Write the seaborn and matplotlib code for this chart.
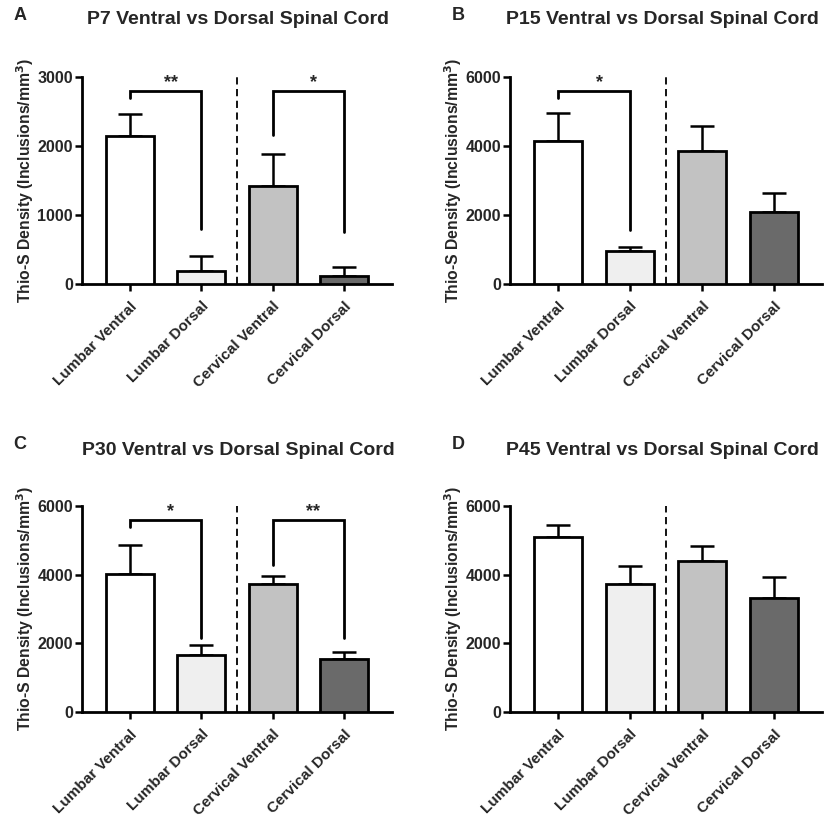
import matplotlib
matplotlib.use("Agg")
import matplotlib.pyplot as plt
import seaborn as sns
import pandas as pd

# ---------------- data ----------------
categories = ["Lumbar Ventral", "Lumbar Dorsal", "Cervical Ventral", "Cervical Dorsal"]
bar_colors = ["#ffffff", "#efefef", "#c2c2c2", "#6a6a6a"]

panel_letters = ["A", "B", "C", "D"]
titles = [
    "P7 Ventral vs Dorsal Spinal Cord",
    "P15 Ventral vs Dorsal Spinal Cord",
    "P30 Ventral vs Dorsal Spinal Cord",
    "P45 Ventral vs Dorsal Spinal Cord",
]
y_max = [3000, 6000, 6000, 6000]
y_step = [1000, 2000, 2000, 2000]

p7_mean = [2150, 190, 1420, 110]
p7_err = [320, 210, 470, 130]
p15_mean = [4150, 950, 3850, 2090]
p15_err = [800, 130, 740, 560]
p30_mean = [4030, 1670, 3730, 1550]
p30_err = [830, 280, 240, 200]
p45_mean = [5100, 3730, 4410, 3320]
p45_err = [350, 510, 420, 610]

# significance brackets: (left bar, right bar, top, left leg end, right leg end, label)
p7_brackets = [(0, 1, 2800, 2700, 800, "**"), (2, 3, 2800, 2160, 760, "*")]
p15_brackets = [(0, 1, 5600, 5380, 1570, "*")]
p30_brackets = [(0, 1, 5600, 5380, 2150, "*"), (2, 3, 5600, 4280, 2150, "**")]
p45_brackets = []

means = [p7_mean, p15_mean, p30_mean, p45_mean]
errs = [p7_err, p15_err, p30_err, p45_err]
brackets = [p7_brackets, p15_brackets, p30_brackets, p45_brackets]

# ---------------- style ----------------
sns.set_theme(style="white")
plt.rcParams["font.family"] = ["Liberation Sans", "DejaVu Sans"]
plt.rcParams["font.weight"] = "bold"

W, H = 829, 819
fig = plt.figure(figsize=(W / 100, H / 100), dpi=100)

# axes boxes in pixels: (left, top, right, bottom)
boxes = [(82, 77, 392, 284), (510, 77, 822, 284), (82, 506, 392, 712), (510, 506, 822, 712)]
# title centre (x, y) and panel letter (x, y) in pixels
title_pos = [(238, 20), (662, 20), (238, 450), (662, 450)]
letter_pos = [(20, 15), (458, 15), (20, 445), (458, 445)]

for i in range(4):
    l, t, r, b = boxes[i]
    ax = fig.add_axes([l / W, 1 - b / H, (r - l) / W, (b - t) / H])
    df = pd.DataFrame({"group": categories, "value": means[i]})
    sns.barplot(data=df, x="group", y="value", hue="group", palette=bar_colors,
                order=categories, hue_order=categories, legend=False,
                width=0.67, saturation=1, edgecolor="black", linewidth=2.0,
                errorbar=None, ax=ax, zorder=3)
    xs = list(range(len(categories)))
    ax.errorbar(xs, means[i], yerr=[[0] * 4, errs[i]], fmt="none", ecolor="black",
                elinewidth=1.8, capsize=8.5, capthick=1.8, zorder=2)
    ax.axvline(1.5, color="black", linestyle=(0, (4, 2.5)), linewidth=1.3, zorder=1)

    for (x1, x2, top, yl, yr, lab) in brackets[i]:
        ax.plot([x1, x1, x2, x2], [yl, top, top, yr], color="black", linewidth=2.0,
                solid_joinstyle="miter", zorder=4, clip_on=False)
        ax.text((x1 + x2) / 2 + 0.07, top + y_max[i] * 0.0, lab, ha="center", va="bottom",
                fontsize=13, fontweight="bold", clip_on=False)

    ax.set_xlim(-0.67, 3.67)
    ax.set_ylim(0, y_max[i])
    ax.set_yticks(range(0, y_max[i] + 1, y_step[i]))
    ax.set_yticklabels([str(v) for v in range(0, y_max[i] + 1, y_step[i])],
                       fontsize=11.5, fontweight="bold")
    ax.set_xticks(xs)
    ax.set_xticklabels(categories, rotation=45, ha="right", rotation_mode="anchor",
                       fontsize=11, fontweight="bold")
    ax.set_xlabel("")
    ax.set_ylabel("Thio-S Density (Inclusions/mm$^\\mathbf{3}$)", fontsize=11.3,
                  fontweight="bold", labelpad=1)
    ax.tick_params(axis="both", direction="out", length=5, width=1.8, color="black",
                   bottom=True, left=True, pad=1.5)
    ax.tick_params(axis="x", pad=6)
    for s in ["top", "right"]:
        ax.spines[s].set_visible(False)
    for s in ["left", "bottom"]:
        ax.spines[s].set_linewidth(2.0)
        ax.spines[s].set_color("black")

    tx, ty = title_pos[i]
    fig.text(tx / W, 1 - ty / H, titles[i], fontsize=14, fontweight="bold",
             ha="center", va="center")
    lx, ly = letter_pos[i]
    fig.text(lx / W, 1 - ly / H, panel_letters[i], fontsize=13, fontweight="bold",
             ha="center", va="center")

fig.savefig("out.png", dpi=100, facecolor="white")
